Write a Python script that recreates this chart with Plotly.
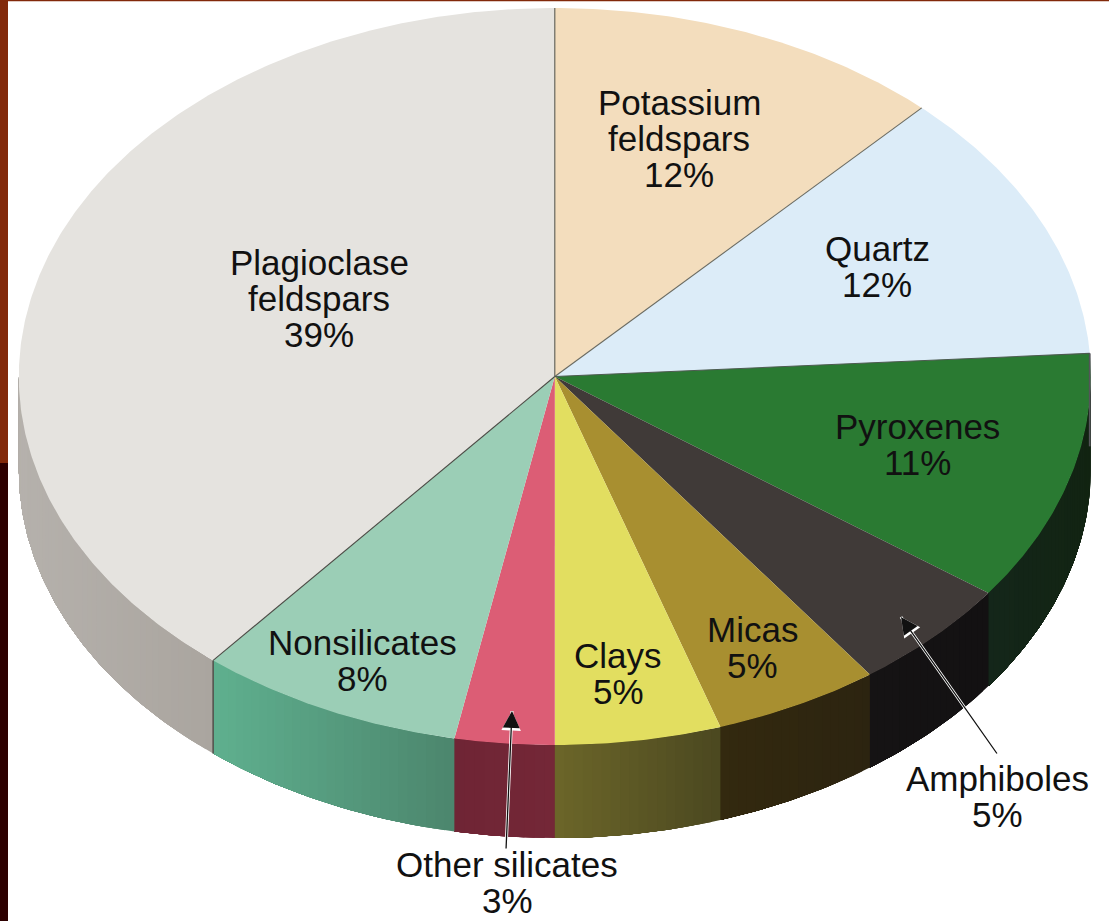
import numpy as np
import plotly.graph_objects as go

# ---- data ----
categories = ["Potassium feldspars", "Quartz", "Pyroxenes", "Amphiboles", "Micas",
              "Clays", "Other silicates", "Nonsilicates", "Plagioclase feldspars"]
values = [12, 12, 11, 5, 5, 5, 3, 8, 39]

# ---- styles ----
top_colors = ["#f3ddbd", "#dcecf8", "#2a7a32", "#403a38", "#a88f30",
              "#e2de60", "#dc5d75", "#9bceb6", "#e5e3df"]
side_left = ["#f3ddbd", "#dcecf8", "#14261a", "#151314", "#33290f",
             "#6c6629", "#6f2535", "#5fb08f", "#b5b1ac"]
side_right = ["#f3ddbd", "#dcecf8", "#122412", "#131112", "#2c2410",
              "#4b4820", "#742737", "#4c866d", "#aaa59f"]

label_lines = {
    "Potassium feldspars": ["Potassium", "feldspars"],
    "Plagioclase feldspars": ["Plagioclase", "feldspars"],
}
label_anchor = {
    "Potassium feldspars": (679, 102), "Quartz": (877, 248), "Pyroxenes": (917, 426),
    "Amphiboles": (997, 778), "Micas": (752, 629), "Clays": (618, 655),
    "Other silicates": (507, 864), "Nonsilicates": (362, 642),
    "Plagioclase feldspars": (319, 262),
}
LINE_STEP = 36
FONT = dict(family="Liberation Sans, Arial, sans-serif", size=35, color="#111111")

# ---- geometry of the tilted disc, in page pixels ----
W, H = 1109, 921
CX, CY, RX, RY, DEPTH = 554.8, 376.5, 536.0, 368.5, 93.0


def rim(deg, drop=0.0):
    t = np.radians(deg)
    return CX + RX * np.sin(t), CY - RY * np.cos(t) + drop


def hexmix(a, b, f):
    pa = [int(a[i:i + 2], 16) for i in (1, 3, 5)]
    pb = [int(b[i:i + 2], 16) for i in (1, 3, 5)]
    return "rgb(%d,%d,%d)" % tuple(round(x + (y - x) * f) for x, y in zip(pa, pb))


fig = go.Figure()
total = sum(values)
edges = np.concatenate([[0], np.cumsum(values)]) * 360.0 / total


def poly(xs, ys, color, name):
    fig.add_trace(go.Scatter(
        x=xs, y=ys, mode="lines", fill="toself", fillcolor=color, name=name,
        line=dict(color=color, width=0), hoverinfo="name", showlegend=False))


# side wall: only the part facing the viewer, in gradient strips; each strip
# runs on to the slice's end and is painted over by the next, so no seams show
for i, cat in enumerate(categories):
    a0, a1 = max(edges[i], 90.0), min(edges[i + 1], 270.0)
    if a1 <= a0:
        continue
    n = max(2, int((a1 - a0) / 1.0))
    cuts = np.linspace(a0, a1, n + 1)
    xl, xr = min(rim(a0)[0], rim(a1)[0]), max(rim(a0)[0], rim(a1)[0])
    for c0, c1 in zip(cuts[:-1], cuts[1:]):
        arc = np.linspace(c0, a1, max(4, int((a1 - c0) * 2)))
        xt, yt = rim(arc)
        xb, yb = rim(arc[::-1], DEPTH)
        f = (rim((c0 + c1) / 2)[0] - xl) / max(xr - xl, 1)
        poly(np.r_[xt, xb, xt[0]], np.r_[yt, yb, yt[0]],
             hexmix(side_left[i], side_right[i], f), cat)

# top face
for i, cat in enumerate(categories):
    arc = np.linspace(edges[i], edges[i + 1], max(8, int(edges[i + 1] - edges[i]) * 2))
    xa, ya = rim(arc)
    poly(np.r_[CX, xa, CX], np.r_[CY, ya, CY], top_colors[i], cat)


# fine keylines between the pale slices
def keyline(xs, ys, color, width=1.0):
    fig.add_trace(go.Scatter(x=xs, y=ys, mode="lines", line=dict(color=color, width=width),
                             hoverinfo="skip", showlegend=False))


for idx, col in [(0, "#5a5a50"), (1, "#6a6a60"), (2, "#4c5a50"), (8, "#4a4a44")]:
    x, y = rim(edges[idx])
    keyline([CX, x], [CY, y], col, 1.1)
x, y = rim(edges[8])
keyline([x, x], [y, y + DEPTH], "#55554f", 1.6)
x, y = rim(edges[2])
keyline([x, x], [y, y + DEPTH], "#55555a", 1.8)

# labels, one annotation per line so the tight leading can be kept
ann = []
for cat, val in zip(categories, values):
    lines = label_lines.get(cat, [cat]) + [f"{val}%"]
    ax, ay = label_anchor[cat]
    for k, txt in enumerate(lines):
        ann.append(dict(x=ax, y=ay + k * LINE_STEP, text=txt, showarrow=False,
                        xref="x", yref="y", xanchor="center", yanchor="middle", font=FONT))

# leader arrows: white sliver head and halo beneath a dark head and shaft
leaders = [((506, 850), (512, 711)), ((998, 755), (901, 617))]
arrow_layers = [("#ffffff", 3.0, 0, 1.0), ("#ffffff", 1.3, 2, 3.0), ("#111111", 1.3, 2, 2.6)]
for (tx, ty), (hx, hy) in leaders:
    for color, width, head, size in arrow_layers:
        ann.append(dict(x=hx, y=hy, ax=tx, ay=ty, xref="x", yref="y", axref="x", ayref="y",
                        text="", showarrow=True, arrowhead=head, arrowsize=size,
                        arrowwidth=width, arrowcolor=color))

# slide frame: dark red band along the top and left edge
shapes = [
    dict(type="rect", xref="x", yref="y", x0=0, x1=8, y0=0, y1=463,
         fillcolor="#82290a", line_width=0, layer="above"),
    dict(type="rect", xref="x", yref="y", x0=0, x1=8, y0=463, y1=H,
         fillcolor="#2d0000", line_width=0, layer="above"),
    dict(type="rect", xref="x", yref="y", x0=0, x1=W, y0=0, y1=1.2,
         fillcolor="#82290a", line_width=0, layer="above"),
]

fig.update_layout(
    width=W, height=H, margin=dict(l=0, r=0, t=0, b=0),
    paper_bgcolor="#ffffff", plot_bgcolor="#ffffff", showlegend=False,
    xaxis=dict(range=[0, W], visible=False, fixedrange=True),
    yaxis=dict(range=[H, 0], visible=False, fixedrange=True),
    annotations=ann, shapes=shapes,
)
fig.write_html("out.html", config=dict(displayModeBar=False),
               post_script="document.body.style.margin='0';document.body.style.overflow='hidden';")
